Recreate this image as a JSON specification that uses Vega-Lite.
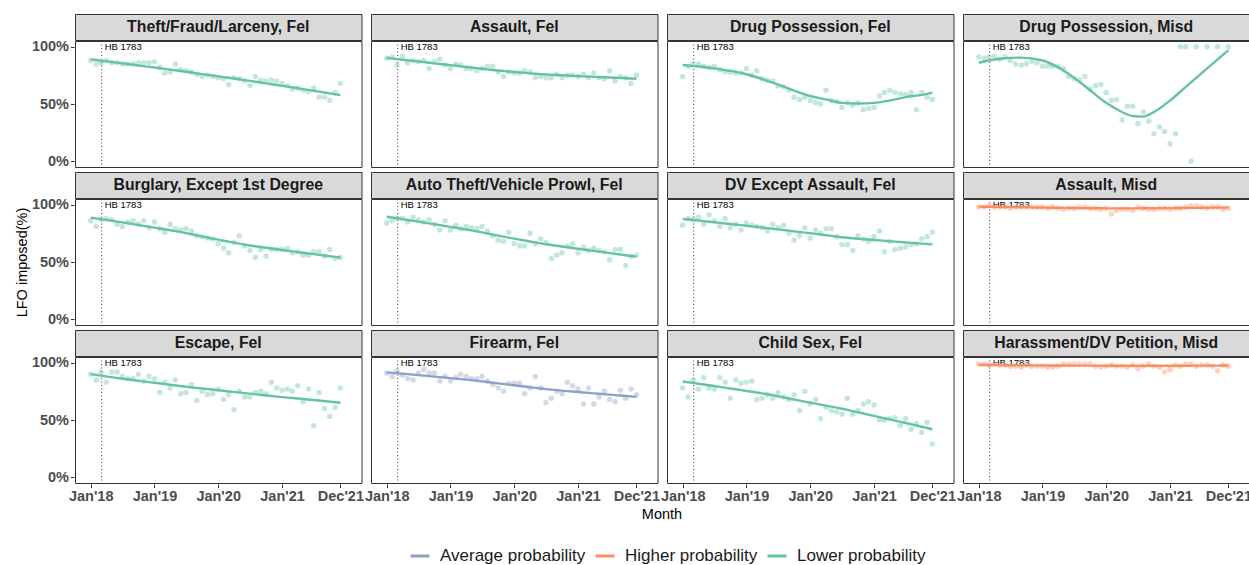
{
"$schema": "https://vega.github.io/schema/vega-lite/v6.json",
"background": "white",
"padding": {"left": 14, "top": 13, "right": 0, "bottom": 0},
"autosize": {"type": "pad"},
"datasets": {
"panels": [
{"k":1,"p":"Theft/Fraud/Larceny, Fel","r":1,"c":1,"g":"Lower probability"},
{"k":2,"p":"Assault, Fel","r":1,"c":2,"g":"Lower probability"},
{"k":3,"p":"Drug Possession, Fel","r":1,"c":3,"g":"Lower probability"},
{"k":4,"p":"Drug Possession, Misd","r":1,"c":4,"g":"Lower probability"},
{"k":5,"p":"Burglary, Except 1st Degree","r":2,"c":1,"g":"Lower probability"},
{"k":6,"p":"Auto Theft/Vehicle Prowl, Fel","r":2,"c":2,"g":"Lower probability"},
{"k":7,"p":"DV Except Assault, Fel","r":2,"c":3,"g":"Lower probability"},
{"k":8,"p":"Assault, Misd","r":2,"c":4,"g":"Higher probability"},
{"k":9,"p":"Escape, Fel","r":3,"c":1,"g":"Lower probability"},
{"k":10,"p":"Firearm, Fel","r":3,"c":2,"g":"Average probability"},
{"k":11,"p":"Child Sex, Fel","r":3,"c":3,"g":"Lower probability"},
{"k":12,"p":"Harassment/DV Petition, Misd","r":3,"c":4,"g":"Higher probability"}
],
"pts": [
{"k":1,"d":"2018-01-01","v":88},{"k":1,"d":"2018-02-01","v":85},{"k":1,"d":"2018-03-01","v":86},{"k":1,"d":"2018-04-01","v":88},{"k":1,"d":"2018-05-01","v":86},{"k":1,"d":"2018-06-01","v":86},{"k":1,"d":"2018-07-01","v":85},{"k":1,"d":"2018-08-01","v":85},{"k":1,"d":"2018-09-01","v":85},{"k":1,"d":"2018-10-01","v":86},{"k":1,"d":"2018-11-01","v":86},{"k":1,"d":"2018-12-01","v":86},
{"k":1,"d":"2019-01-01","v":87},{"k":1,"d":"2019-02-01","v":82},{"k":1,"d":"2019-03-01","v":77},{"k":1,"d":"2019-04-01","v":78},{"k":1,"d":"2019-05-01","v":85},{"k":1,"d":"2019-06-01","v":80},{"k":1,"d":"2019-07-01","v":79},{"k":1,"d":"2019-08-01","v":78},{"k":1,"d":"2019-09-01","v":76},{"k":1,"d":"2019-10-01","v":74},{"k":1,"d":"2019-11-01","v":75},{"k":1,"d":"2019-12-01","v":74},
{"k":1,"d":"2020-01-01","v":73},{"k":1,"d":"2020-02-01","v":72},{"k":1,"d":"2020-03-01","v":67},{"k":1,"d":"2020-04-01","v":73},{"k":1,"d":"2020-05-01","v":72},{"k":1,"d":"2020-06-01","v":70},{"k":1,"d":"2020-07-01","v":66},{"k":1,"d":"2020-08-01","v":74},{"k":1,"d":"2020-09-01","v":71},{"k":1,"d":"2020-10-01","v":70},{"k":1,"d":"2020-11-01","v":71},{"k":1,"d":"2020-12-01","v":70},
{"k":1,"d":"2021-01-01","v":68},{"k":1,"d":"2021-02-01","v":66},{"k":1,"d":"2021-03-01","v":63},{"k":1,"d":"2021-04-01","v":64},{"k":1,"d":"2021-05-01","v":62},{"k":1,"d":"2021-06-01","v":61},{"k":1,"d":"2021-07-01","v":64},{"k":1,"d":"2021-08-01","v":56},{"k":1,"d":"2021-09-01","v":56},{"k":1,"d":"2021-10-01","v":53},{"k":1,"d":"2021-11-01","v":60},{"k":1,"d":"2021-12-01","v":68},
{"k":2,"d":"2018-01-01","v":90},{"k":2,"d":"2018-02-01","v":91},{"k":2,"d":"2018-03-01","v":84},{"k":2,"d":"2018-04-01","v":92},{"k":2,"d":"2018-05-01","v":86},{"k":2,"d":"2018-06-01","v":88},{"k":2,"d":"2018-07-01","v":87},{"k":2,"d":"2018-08-01","v":88},{"k":2,"d":"2018-09-01","v":81},{"k":2,"d":"2018-10-01","v":87},{"k":2,"d":"2018-11-01","v":89},{"k":2,"d":"2018-12-01","v":84},
{"k":2,"d":"2019-01-01","v":81},{"k":2,"d":"2019-02-01","v":85},{"k":2,"d":"2019-03-01","v":84},{"k":2,"d":"2019-04-01","v":81},{"k":2,"d":"2019-05-01","v":81},{"k":2,"d":"2019-06-01","v":79},{"k":2,"d":"2019-07-01","v":81},{"k":2,"d":"2019-08-01","v":83},{"k":2,"d":"2019-09-01","v":83},{"k":2,"d":"2019-10-01","v":78},{"k":2,"d":"2019-11-01","v":74},{"k":2,"d":"2019-12-01","v":78},
{"k":2,"d":"2020-01-01","v":77},{"k":2,"d":"2020-02-01","v":77},{"k":2,"d":"2020-03-01","v":79},{"k":2,"d":"2020-04-01","v":78},{"k":2,"d":"2020-05-01","v":73},{"k":2,"d":"2020-06-01","v":74},{"k":2,"d":"2020-07-01","v":73},{"k":2,"d":"2020-08-01","v":73},{"k":2,"d":"2020-09-01","v":76},{"k":2,"d":"2020-10-01","v":73},{"k":2,"d":"2020-11-01","v":75},{"k":2,"d":"2020-12-01","v":75},
{"k":2,"d":"2021-01-01","v":74},{"k":2,"d":"2021-02-01","v":76},{"k":2,"d":"2021-03-01","v":73},{"k":2,"d":"2021-04-01","v":77},{"k":2,"d":"2021-05-01","v":73},{"k":2,"d":"2021-06-01","v":72},{"k":2,"d":"2021-07-01","v":79},{"k":2,"d":"2021-08-01","v":70},{"k":2,"d":"2021-09-01","v":74},{"k":2,"d":"2021-10-01","v":73},{"k":2,"d":"2021-11-01","v":68},{"k":2,"d":"2021-12-01","v":75},
{"k":3,"d":"2018-01-01","v":74},{"k":3,"d":"2018-02-01","v":83},{"k":3,"d":"2018-03-01","v":85},{"k":3,"d":"2018-04-01","v":85},{"k":3,"d":"2018-05-01","v":83},{"k":3,"d":"2018-06-01","v":82},{"k":3,"d":"2018-07-01","v":83},{"k":3,"d":"2018-08-01","v":80},{"k":3,"d":"2018-09-01","v":78},{"k":3,"d":"2018-10-01","v":78},{"k":3,"d":"2018-11-01","v":77},{"k":3,"d":"2018-12-01","v":77},
{"k":3,"d":"2019-01-01","v":81},{"k":3,"d":"2019-02-01","v":75},{"k":3,"d":"2019-03-01","v":79},{"k":3,"d":"2019-04-01","v":72},{"k":3,"d":"2019-05-01","v":71},{"k":3,"d":"2019-06-01","v":70},{"k":3,"d":"2019-07-01","v":66},{"k":3,"d":"2019-08-01","v":65},{"k":3,"d":"2019-09-01","v":62},{"k":3,"d":"2019-10-01","v":56},{"k":3,"d":"2019-11-01","v":54},{"k":3,"d":"2019-12-01","v":56},
{"k":3,"d":"2020-01-01","v":53},{"k":3,"d":"2020-02-01","v":51},{"k":3,"d":"2020-03-01","v":50},{"k":3,"d":"2020-04-01","v":62},{"k":3,"d":"2020-05-01","v":53},{"k":3,"d":"2020-06-01","v":52},{"k":3,"d":"2020-07-01","v":47},{"k":3,"d":"2020-08-01","v":51},{"k":3,"d":"2020-09-01","v":49},{"k":3,"d":"2020-10-01","v":51},{"k":3,"d":"2020-11-01","v":45},{"k":3,"d":"2020-12-01","v":46},
{"k":3,"d":"2021-01-01","v":47},{"k":3,"d":"2021-02-01","v":57},{"k":3,"d":"2021-03-01","v":60},{"k":3,"d":"2021-04-01","v":62},{"k":3,"d":"2021-05-01","v":60},{"k":3,"d":"2021-06-01","v":59},{"k":3,"d":"2021-07-01","v":58},{"k":3,"d":"2021-08-01","v":60},{"k":3,"d":"2021-09-01","v":45},{"k":3,"d":"2021-10-01","v":60},{"k":3,"d":"2021-11-01","v":56},{"k":3,"d":"2021-12-01","v":54},
{"k":4,"d":"2018-01-01","v":91},{"k":4,"d":"2018-02-01","v":90},{"k":4,"d":"2018-03-01","v":91},{"k":4,"d":"2018-04-01","v":92},{"k":4,"d":"2018-05-01","v":89},{"k":4,"d":"2018-06-01","v":91},{"k":4,"d":"2018-07-01","v":88},{"k":4,"d":"2018-08-01","v":85},{"k":4,"d":"2018-09-01","v":84},{"k":4,"d":"2018-10-01","v":85},{"k":4,"d":"2018-11-01","v":87},{"k":4,"d":"2018-12-01","v":86},
{"k":4,"d":"2019-01-01","v":83},{"k":4,"d":"2019-02-01","v":83},{"k":4,"d":"2019-03-01","v":83},{"k":4,"d":"2019-04-01","v":83},{"k":4,"d":"2019-05-01","v":81},{"k":4,"d":"2019-06-01","v":74},{"k":4,"d":"2019-07-01","v":72},{"k":4,"d":"2019-08-01","v":71},{"k":4,"d":"2019-09-01","v":74},{"k":4,"d":"2019-10-01","v":63},{"k":4,"d":"2019-11-01","v":66},{"k":4,"d":"2019-12-01","v":67},
{"k":4,"d":"2020-01-01","v":60},{"k":4,"d":"2020-02-01","v":53},{"k":4,"d":"2020-03-01","v":54},{"k":4,"d":"2020-04-01","v":36},{"k":4,"d":"2020-05-01","v":48},{"k":4,"d":"2020-06-01","v":48},{"k":4,"d":"2020-07-01","v":33},{"k":4,"d":"2020-08-01","v":43},{"k":4,"d":"2020-09-01","v":35},{"k":4,"d":"2020-10-01","v":24},{"k":4,"d":"2020-11-01","v":30},{"k":4,"d":"2020-12-01","v":26},
{"k":4,"d":"2021-01-01","v":15},{"k":4,"d":"2021-02-01","v":24},{"k":4,"d":"2021-03-01","v":100},{"k":4,"d":"2021-04-01","v":100},{"k":4,"d":"2021-05-01","v":0},{"k":4,"d":"2021-06-01","v":100},{"k":4,"d":"2021-08-01","v":100},{"k":4,"d":"2021-10-01","v":100},{"k":4,"d":"2021-12-01","v":100},
{"k":5,"d":"2018-01-01","v":86},{"k":5,"d":"2018-02-01","v":81},{"k":5,"d":"2018-03-01","v":87},{"k":5,"d":"2018-04-01","v":88},{"k":5,"d":"2018-05-01","v":87},{"k":5,"d":"2018-06-01","v":83},{"k":5,"d":"2018-07-01","v":81},{"k":5,"d":"2018-08-01","v":85},{"k":5,"d":"2018-09-01","v":86},{"k":5,"d":"2018-10-01","v":83},{"k":5,"d":"2018-11-01","v":86},{"k":5,"d":"2018-12-01","v":80},
{"k":5,"d":"2019-01-01","v":85},{"k":5,"d":"2019-02-01","v":79},{"k":5,"d":"2019-03-01","v":76},{"k":5,"d":"2019-04-01","v":83},{"k":5,"d":"2019-05-01","v":79},{"k":5,"d":"2019-06-01","v":78},{"k":5,"d":"2019-07-01","v":79},{"k":5,"d":"2019-08-01","v":77},{"k":5,"d":"2019-09-01","v":73},{"k":5,"d":"2019-10-01","v":72},{"k":5,"d":"2019-11-01","v":71},{"k":5,"d":"2019-12-01","v":70},
{"k":5,"d":"2020-01-01","v":66},{"k":5,"d":"2020-02-01","v":62},{"k":5,"d":"2020-03-01","v":58},{"k":5,"d":"2020-04-01","v":67},{"k":5,"d":"2020-05-01","v":73},{"k":5,"d":"2020-06-01","v":64},{"k":5,"d":"2020-07-01","v":60},{"k":5,"d":"2020-08-01","v":54},{"k":5,"d":"2020-09-01","v":61},{"k":5,"d":"2020-10-01","v":55},{"k":5,"d":"2020-11-01","v":61},{"k":5,"d":"2020-12-01","v":61},
{"k":5,"d":"2021-01-01","v":61},{"k":5,"d":"2021-02-01","v":62},{"k":5,"d":"2021-03-01","v":58},{"k":5,"d":"2021-04-01","v":59},{"k":5,"d":"2021-05-01","v":56},{"k":5,"d":"2021-06-01","v":56},{"k":5,"d":"2021-07-01","v":59},{"k":5,"d":"2021-08-01","v":59},{"k":5,"d":"2021-09-01","v":55},{"k":5,"d":"2021-10-01","v":61},{"k":5,"d":"2021-11-01","v":53},{"k":5,"d":"2021-12-01","v":54},
{"k":6,"d":"2018-01-01","v":84},{"k":6,"d":"2018-02-01","v":86},{"k":6,"d":"2018-03-01","v":88},{"k":6,"d":"2018-04-01","v":88},{"k":6,"d":"2018-05-01","v":85},{"k":6,"d":"2018-06-01","v":89},{"k":6,"d":"2018-07-01","v":87},{"k":6,"d":"2018-08-01","v":85},{"k":6,"d":"2018-09-01","v":87},{"k":6,"d":"2018-10-01","v":83},{"k":6,"d":"2018-11-01","v":78},{"k":6,"d":"2018-12-01","v":86},
{"k":6,"d":"2019-01-01","v":78},{"k":6,"d":"2019-02-01","v":82},{"k":6,"d":"2019-03-01","v":79},{"k":6,"d":"2019-04-01","v":81},{"k":6,"d":"2019-05-01","v":80},{"k":6,"d":"2019-06-01","v":79},{"k":6,"d":"2019-07-01","v":81},{"k":6,"d":"2019-08-01","v":77},{"k":6,"d":"2019-09-01","v":73},{"k":6,"d":"2019-10-01","v":69},{"k":6,"d":"2019-11-01","v":68},{"k":6,"d":"2019-12-01","v":76},
{"k":6,"d":"2020-01-01","v":66},{"k":6,"d":"2020-02-01","v":64},{"k":6,"d":"2020-03-01","v":64},{"k":6,"d":"2020-04-01","v":75},{"k":6,"d":"2020-05-01","v":66},{"k":6,"d":"2020-06-01","v":70},{"k":6,"d":"2020-07-01","v":67},{"k":6,"d":"2020-08-01","v":53},{"k":6,"d":"2020-09-01","v":56},{"k":6,"d":"2020-10-01","v":58},{"k":6,"d":"2020-11-01","v":64},{"k":6,"d":"2020-12-01","v":66},
{"k":6,"d":"2021-01-01","v":58},{"k":6,"d":"2021-02-01","v":63},{"k":6,"d":"2021-03-01","v":60},{"k":6,"d":"2021-04-01","v":62},{"k":6,"d":"2021-05-01","v":60},{"k":6,"d":"2021-06-01","v":59},{"k":6,"d":"2021-07-01","v":52},{"k":6,"d":"2021-08-01","v":61},{"k":6,"d":"2021-09-01","v":61},{"k":6,"d":"2021-10-01","v":47},{"k":6,"d":"2021-11-01","v":55},{"k":6,"d":"2021-12-01","v":56},
{"k":7,"d":"2018-01-01","v":82},{"k":7,"d":"2018-02-01","v":88},{"k":7,"d":"2018-03-01","v":87},{"k":7,"d":"2018-04-01","v":89},{"k":7,"d":"2018-05-01","v":83},{"k":7,"d":"2018-06-01","v":91},{"k":7,"d":"2018-07-01","v":86},{"k":7,"d":"2018-08-01","v":81},{"k":7,"d":"2018-09-01","v":88},{"k":7,"d":"2018-10-01","v":80},{"k":7,"d":"2018-11-01","v":83},{"k":7,"d":"2018-12-01","v":78},
{"k":7,"d":"2019-01-01","v":84},{"k":7,"d":"2019-02-01","v":82},{"k":7,"d":"2019-03-01","v":81},{"k":7,"d":"2019-04-01","v":80},{"k":7,"d":"2019-05-01","v":77},{"k":7,"d":"2019-06-01","v":83},{"k":7,"d":"2019-07-01","v":80},{"k":7,"d":"2019-08-01","v":82},{"k":7,"d":"2019-09-01","v":75},{"k":7,"d":"2019-10-01","v":69},{"k":7,"d":"2019-11-01","v":73},{"k":7,"d":"2019-12-01","v":80},
{"k":7,"d":"2020-01-01","v":71},{"k":7,"d":"2020-02-01","v":78},{"k":7,"d":"2020-03-01","v":75},{"k":7,"d":"2020-04-01","v":79},{"k":7,"d":"2020-05-01","v":79},{"k":7,"d":"2020-06-01","v":72},{"k":7,"d":"2020-07-01","v":65},{"k":7,"d":"2020-08-01","v":65},{"k":7,"d":"2020-09-01","v":60},{"k":7,"d":"2020-10-01","v":73},{"k":7,"d":"2020-11-01","v":70},{"k":7,"d":"2020-12-01","v":68},
{"k":7,"d":"2021-01-01","v":72},{"k":7,"d":"2021-02-01","v":77},{"k":7,"d":"2021-03-01","v":59},{"k":7,"d":"2021-04-01","v":68},{"k":7,"d":"2021-05-01","v":61},{"k":7,"d":"2021-06-01","v":62},{"k":7,"d":"2021-07-01","v":63},{"k":7,"d":"2021-08-01","v":65},{"k":7,"d":"2021-09-01","v":66},{"k":7,"d":"2021-10-01","v":70},{"k":7,"d":"2021-11-01","v":72},{"k":7,"d":"2021-12-01","v":76},
{"k":8,"d":"2018-01-01","v":98},{"k":8,"d":"2018-02-01","v":98},{"k":8,"d":"2018-03-01","v":99},{"k":8,"d":"2018-04-01","v":98},{"k":8,"d":"2018-05-01","v":98},{"k":8,"d":"2018-06-01","v":98},{"k":8,"d":"2018-07-01","v":97},{"k":8,"d":"2018-08-01","v":98},{"k":8,"d":"2018-09-01","v":98},{"k":8,"d":"2018-10-01","v":98},{"k":8,"d":"2018-11-01","v":98},{"k":8,"d":"2018-12-01","v":98},
{"k":8,"d":"2019-01-01","v":98},{"k":8,"d":"2019-02-01","v":97},{"k":8,"d":"2019-03-01","v":98},{"k":8,"d":"2019-04-01","v":97},{"k":8,"d":"2019-05-01","v":96},{"k":8,"d":"2019-06-01","v":97},{"k":8,"d":"2019-07-01","v":97},{"k":8,"d":"2019-08-01","v":98},{"k":8,"d":"2019-09-01","v":98},{"k":8,"d":"2019-10-01","v":97},{"k":8,"d":"2019-11-01","v":97},{"k":8,"d":"2019-12-01","v":96},
{"k":8,"d":"2020-01-01","v":97},{"k":8,"d":"2020-02-01","v":92},{"k":8,"d":"2020-03-01","v":95},{"k":8,"d":"2020-04-01","v":96},{"k":8,"d":"2020-05-01","v":96},{"k":8,"d":"2020-06-01","v":95},{"k":8,"d":"2020-07-01","v":98},{"k":8,"d":"2020-08-01","v":97},{"k":8,"d":"2020-09-01","v":96},{"k":8,"d":"2020-10-01","v":96},{"k":8,"d":"2020-11-01","v":97},{"k":8,"d":"2020-12-01","v":97},
{"k":8,"d":"2021-01-01","v":96},{"k":8,"d":"2021-02-01","v":97},{"k":8,"d":"2021-03-01","v":97},{"k":8,"d":"2021-04-01","v":98},{"k":8,"d":"2021-05-01","v":99},{"k":8,"d":"2021-06-01","v":99},{"k":8,"d":"2021-07-01","v":98},{"k":8,"d":"2021-08-01","v":97},{"k":8,"d":"2021-09-01","v":98},{"k":8,"d":"2021-10-01","v":98},{"k":8,"d":"2021-11-01","v":96},{"k":8,"d":"2021-12-01","v":97},
{"k":9,"d":"2018-01-01","v":90},{"k":9,"d":"2018-02-01","v":85},{"k":9,"d":"2018-03-01","v":92},{"k":9,"d":"2018-04-01","v":83},{"k":9,"d":"2018-05-01","v":92},{"k":9,"d":"2018-06-01","v":92},{"k":9,"d":"2018-07-01","v":88},{"k":9,"d":"2018-08-01","v":86},{"k":9,"d":"2018-09-01","v":86},{"k":9,"d":"2018-10-01","v":90},{"k":9,"d":"2018-11-01","v":84},{"k":9,"d":"2018-12-01","v":88},
{"k":9,"d":"2019-01-01","v":86},{"k":9,"d":"2019-02-01","v":74},{"k":9,"d":"2019-03-01","v":83},{"k":9,"d":"2019-04-01","v":78},{"k":9,"d":"2019-05-01","v":85},{"k":9,"d":"2019-06-01","v":73},{"k":9,"d":"2019-07-01","v":74},{"k":9,"d":"2019-08-01","v":81},{"k":9,"d":"2019-09-01","v":67},{"k":9,"d":"2019-10-01","v":75},{"k":9,"d":"2019-11-01","v":72},{"k":9,"d":"2019-12-01","v":73},
{"k":9,"d":"2020-01-01","v":77},{"k":9,"d":"2020-02-01","v":68},{"k":9,"d":"2020-03-01","v":72},{"k":9,"d":"2020-04-01","v":59},{"k":9,"d":"2020-05-01","v":75},{"k":9,"d":"2020-06-01","v":70},{"k":9,"d":"2020-07-01","v":70},{"k":9,"d":"2020-08-01","v":74},{"k":9,"d":"2020-09-01","v":75},{"k":9,"d":"2020-10-01","v":73},{"k":9,"d":"2020-11-01","v":83},{"k":9,"d":"2020-12-01","v":78},
{"k":9,"d":"2021-01-01","v":76},{"k":9,"d":"2021-02-01","v":77},{"k":9,"d":"2021-03-01","v":75},{"k":9,"d":"2021-04-01","v":80},{"k":9,"d":"2021-05-01","v":66},{"k":9,"d":"2021-06-01","v":77},{"k":9,"d":"2021-07-01","v":45},{"k":9,"d":"2021-08-01","v":74},{"k":9,"d":"2021-09-01","v":60},{"k":9,"d":"2021-10-01","v":53},{"k":9,"d":"2021-11-01","v":61},{"k":9,"d":"2021-12-01","v":78},
{"k":10,"d":"2018-01-01","v":91},{"k":10,"d":"2018-02-01","v":88},{"k":10,"d":"2018-03-01","v":93},{"k":10,"d":"2018-04-01","v":89},{"k":10,"d":"2018-05-01","v":86},{"k":10,"d":"2018-06-01","v":85},{"k":10,"d":"2018-07-01","v":91},{"k":10,"d":"2018-08-01","v":94},{"k":10,"d":"2018-09-01","v":91},{"k":10,"d":"2018-10-01","v":91},{"k":10,"d":"2018-11-01","v":84},{"k":10,"d":"2018-12-01","v":88},
{"k":10,"d":"2019-01-01","v":84},{"k":10,"d":"2019-02-01","v":87},{"k":10,"d":"2019-03-01","v":90},{"k":10,"d":"2019-04-01","v":88},{"k":10,"d":"2019-05-01","v":86},{"k":10,"d":"2019-06-01","v":86},{"k":10,"d":"2019-07-01","v":88},{"k":10,"d":"2019-08-01","v":84},{"k":10,"d":"2019-09-01","v":81},{"k":10,"d":"2019-10-01","v":78},{"k":10,"d":"2019-11-01","v":75},{"k":10,"d":"2019-12-01","v":82},
{"k":10,"d":"2020-01-01","v":82},{"k":10,"d":"2020-02-01","v":82},{"k":10,"d":"2020-03-01","v":73},{"k":10,"d":"2020-04-01","v":78},{"k":10,"d":"2020-05-01","v":88},{"k":10,"d":"2020-06-01","v":78},{"k":10,"d":"2020-07-01","v":65},{"k":10,"d":"2020-08-01","v":69},{"k":10,"d":"2020-09-01","v":75},{"k":10,"d":"2020-10-01","v":73},{"k":10,"d":"2020-11-01","v":83},{"k":10,"d":"2020-12-01","v":80},
{"k":10,"d":"2021-01-01","v":77},{"k":10,"d":"2021-02-01","v":64},{"k":10,"d":"2021-03-01","v":78},{"k":10,"d":"2021-04-01","v":64},{"k":10,"d":"2021-05-01","v":70},{"k":10,"d":"2021-06-01","v":75},{"k":10,"d":"2021-07-01","v":68},{"k":10,"d":"2021-08-01","v":66},{"k":10,"d":"2021-09-01","v":76},{"k":10,"d":"2021-10-01","v":69},{"k":10,"d":"2021-11-01","v":77},{"k":10,"d":"2021-12-01","v":72},
{"k":11,"d":"2018-01-01","v":78},{"k":11,"d":"2018-02-01","v":70},{"k":11,"d":"2018-03-01","v":85},{"k":11,"d":"2018-04-01","v":77},{"k":11,"d":"2018-05-01","v":87},{"k":11,"d":"2018-06-01","v":78},{"k":11,"d":"2018-07-01","v":77},{"k":11,"d":"2018-08-01","v":87},{"k":11,"d":"2018-09-01","v":83},{"k":11,"d":"2018-10-01","v":69},{"k":11,"d":"2018-11-01","v":85},{"k":11,"d":"2018-12-01","v":82},
{"k":11,"d":"2019-01-01","v":83},{"k":11,"d":"2019-02-01","v":84},{"k":11,"d":"2019-03-01","v":68},{"k":11,"d":"2019-04-01","v":69},{"k":11,"d":"2019-05-01","v":72},{"k":11,"d":"2019-06-01","v":69},{"k":11,"d":"2019-07-01","v":74},{"k":11,"d":"2019-08-01","v":70},{"k":11,"d":"2019-09-01","v":68},{"k":11,"d":"2019-10-01","v":72},{"k":11,"d":"2019-11-01","v":58},{"k":11,"d":"2019-12-01","v":75},
{"k":11,"d":"2020-01-01","v":64},{"k":11,"d":"2020-02-01","v":68},{"k":11,"d":"2020-03-01","v":51},{"k":11,"d":"2020-04-01","v":61},{"k":11,"d":"2020-05-01","v":58},{"k":11,"d":"2020-06-01","v":57},{"k":11,"d":"2020-07-01","v":55},{"k":11,"d":"2020-08-01","v":69},{"k":11,"d":"2020-09-01","v":55},{"k":11,"d":"2020-10-01","v":58},{"k":11,"d":"2020-11-01","v":64},{"k":11,"d":"2020-12-01","v":66},
{"k":11,"d":"2021-01-01","v":63},{"k":11,"d":"2021-02-01","v":50},{"k":11,"d":"2021-03-01","v":50},{"k":11,"d":"2021-04-01","v":51},{"k":11,"d":"2021-05-01","v":52},{"k":11,"d":"2021-06-01","v":45},{"k":11,"d":"2021-07-01","v":51},{"k":11,"d":"2021-08-01","v":42},{"k":11,"d":"2021-09-01","v":47},{"k":11,"d":"2021-10-01","v":39},{"k":11,"d":"2021-11-01","v":48},{"k":11,"d":"2021-12-01","v":29},
{"k":12,"d":"2018-01-01","v":99},{"k":12,"d":"2018-02-01","v":99},{"k":12,"d":"2018-03-01","v":98},{"k":12,"d":"2018-04-01","v":99},{"k":12,"d":"2018-05-01","v":98},{"k":12,"d":"2018-06-01","v":98},{"k":12,"d":"2018-07-01","v":97},{"k":12,"d":"2018-08-01","v":97},{"k":12,"d":"2018-09-01","v":96},{"k":12,"d":"2018-10-01","v":98},{"k":12,"d":"2018-11-01","v":97},{"k":12,"d":"2018-12-01","v":97},
{"k":12,"d":"2019-01-01","v":97},{"k":12,"d":"2019-02-01","v":96},{"k":12,"d":"2019-03-01","v":96},{"k":12,"d":"2019-04-01","v":97},{"k":12,"d":"2019-05-01","v":99},{"k":12,"d":"2019-06-01","v":99},{"k":12,"d":"2019-07-01","v":99},{"k":12,"d":"2019-08-01","v":99},{"k":12,"d":"2019-09-01","v":99},{"k":12,"d":"2019-10-01","v":99},{"k":12,"d":"2019-11-01","v":97},{"k":12,"d":"2019-12-01","v":96},
{"k":12,"d":"2020-01-01","v":97},{"k":12,"d":"2020-02-01","v":98},{"k":12,"d":"2020-03-01","v":97},{"k":12,"d":"2020-04-01","v":97},{"k":12,"d":"2020-05-01","v":96},{"k":12,"d":"2020-06-01","v":98},{"k":12,"d":"2020-07-01","v":95},{"k":12,"d":"2020-08-01","v":97},{"k":12,"d":"2020-09-01","v":99},{"k":12,"d":"2020-10-01","v":97},{"k":12,"d":"2020-11-01","v":96},{"k":12,"d":"2020-12-01","v":92},
{"k":12,"d":"2021-01-01","v":94},{"k":12,"d":"2021-02-01","v":98},{"k":12,"d":"2021-03-01","v":97},{"k":12,"d":"2021-04-01","v":99},{"k":12,"d":"2021-05-01","v":99},{"k":12,"d":"2021-06-01","v":97},{"k":12,"d":"2021-07-01","v":98},{"k":12,"d":"2021-08-01","v":98},{"k":12,"d":"2021-09-01","v":97},{"k":12,"d":"2021-10-01","v":93},{"k":12,"d":"2021-11-01","v":98},{"k":12,"d":"2021-12-01","v":97},
{"k":3,"d":"2018-01-01","f":84},{"k":3,"d":"2018-07-01","f":81},{"k":3,"d":"2019-01-01","f":76},{"k":3,"d":"2019-07-01","f":67},{"k":3,"d":"2020-01-01","f":57},{"k":3,"d":"2020-04-01","f":54},{"k":3,"d":"2020-07-01","f":51},{"k":3,"d":"2020-10-01","f":50.5},{"k":3,"d":"2021-01-01","f":51},{"k":3,"d":"2021-04-01","f":53},{"k":3,"d":"2021-07-01","f":56},{"k":3,"d":"2021-10-01","f":58},{"k":3,"d":"2021-12-01","f":60},
{"k":4,"d":"2018-01-01","f":86},{"k":4,"d":"2018-05-01","f":89.5},{"k":4,"d":"2018-09-01","f":90.5},{"k":4,"d":"2019-01-01","f":88},{"k":4,"d":"2019-04-01","f":82},{"k":4,"d":"2019-07-01","f":73},{"k":4,"d":"2019-10-01","f":62},{"k":4,"d":"2020-01-01","f":51},{"k":4,"d":"2020-04-01","f":43},{"k":4,"d":"2020-06-01","f":39.5},{"k":4,"d":"2020-08-01","f":39},{"k":4,"d":"2020-10-01","f":43},{"k":4,"d":"2021-01-01","f":53},{"k":4,"d":"2021-04-01","f":65},{"k":4,"d":"2021-07-01","f":77},{"k":4,"d":"2021-10-01","f":89},{"k":4,"d":"2021-12-01","f":97},
{"k":9,"d":"2018-01-01","f":90},{"k":9,"d":"2018-07-01","f":86},{"k":9,"d":"2019-01-01","f":82.5},{"k":9,"d":"2019-07-01","f":79},{"k":9,"d":"2020-01-01","f":76},{"k":9,"d":"2020-07-01","f":73},{"k":9,"d":"2021-01-01","f":70},{"k":9,"d":"2021-07-01","f":67.5},{"k":9,"d":"2021-12-01","f":65}
]
},
"spacing": 3,
"vconcat": [
{"spacing": -4, "vconcat": [
 {"data": {"name": "panels"}, "transform": [{"filter": "datum.r == 1"}],
  "facet": {"column": {"field": "c", "type": "ordinal", "title": null, "header": null}}, "spacing": 8,
  "spec": {"width": 286.5, "height": 26, "view": {"fill": "#D9D9D9", "stroke": "#333333", "strokeWidth": 1},
   "mark": {"type": "text", "font": "Liberation Sans", "fontWeight": "bold", "fontSize": 15.8, "color": "#1A1A1A", "baseline": "middle"},
   "encoding": {"text": {"field": "p"}}}},
 {"data": {"name": "pts"}, "transform": [{"lookup": "k", "from": {"data": {"name": "panels"}, "key": "k", "fields": ["p", "r", "c", "g"]}}, {"filter": "datum.r == 1"}],
  "facet": {"column": {"field": "c", "type": "ordinal", "title": null, "header": null}}, "spacing": 8,
  "spec": {"width": 286.5, "height": 126, "layer": [
   {"transform": [{"aggregate": [{"op": "count", "as": "n"}], "groupby": ["c"]}],
    "mark": {"type": "rule", "strokeDash": [1, 2.5], "color": "#333333", "strokeWidth": 1},
    "encoding": {"x": {"datum": {"year": 2018, "month": 3, "date": 5, "utc": true}, "type": "temporal"}}},
   {"transform": [{"aggregate": [{"op": "count", "as": "n"}], "groupby": ["c"]}],
    "mark": {"type": "text", "align": "left", "baseline": "middle", "dx": 3, "font": "Liberation Sans", "fontSize": 9.5, "color": "#000000"},
    "encoding": {"x": {"datum": {"year": 2018, "month": 3, "date": 5, "utc": true}, "type": "temporal"}, "y": {"datum": 100, "type": "quantitative"}, "text": {"value": "HB 1783"}}},
   {"transform": [{"filter": "datum.v != null"}],
    "mark": {"type": "circle", "size": 30, "opacity": 0.4},
    "encoding": {
     "x": {"field": "d", "type": "temporal", "scale": {"type": "utc", "domain": [{"year": 2017, "month": 10, "date": 3, "utc": true}, {"year": 2022, "month": 4, "date": 1, "utc": true}]},
       "axis": {"title": null, "labels": false, "ticks": false, "domain": false, "values": [{"year":2018,"month":1,"date":1,"utc":true},{"year":2018,"month":7,"date":2,"utc":true},{"year":2019,"month":1,"date":1,"utc":true},{"year":2019,"month":7,"date":2,"utc":true},{"year":2020,"month":1,"date":1,"utc":true},{"year":2020,"month":7,"date":2,"utc":true},{"year":2021,"month":1,"date":1,"utc":true},{"year":2021,"month":6,"date":17,"utc":true},{"year":2021,"month":12,"date":1,"utc":true}],
         "gridWidth": {"condition": {"test": "utcmonth(datum.value) == 0 || utcmonth(datum.value) == 11", "value": 1.1}, "value": 0.55}}},
     "y": {"field": "v", "type": "quantitative", "scale": {"domain": [-5, 105], "nice": false, "zero": false},
       "axis": {"title": null, "domain": false, "values": [0, 12.5, 25, 37.5, 50, 62.5, 75, 87.5, 100], "labelOverlap": false,
         "labelExpr": "datum.value % 25 == 0 ? datum.value + '%' : ''",
         "tickOpacity": {"condition": {"test": "datum.value % 25 == 0", "value": 1}, "value": 0},
         "gridWidth": {"condition": {"test": "datum.value % 25 == 0", "value": 1.1}, "value": 0.55}}},
     "color": {"field": "g", "type": "nominal", "scale": {"domain": ["Average probability", "Higher probability", "Lower probability"], "range": ["#8DA0CB", "#FC8D62", "#66C2A5"]}, "legend": {"title": null, "orient": "none", "direction": "horizontal", "legendX": 334, "legendY": 531}}}},
   {"transform": [{"filter": "datum.v != null && datum.k != 3 && datum.k != 4"}, {"loess": "v", "on": "d", "groupby": ["c", "g"], "bandwidth": 0.75}],
    "mark": {"type": "line", "strokeWidth": 2.4, "clip": true},
    "encoding": {"x": {"field": "d", "type": "temporal"}, "y": {"field": "v", "type": "quantitative", "title": null}, "color": {"field": "g", "type": "nominal"}}},
   {"transform": [{"filter": "datum.f != null"}],
    "mark": {"type": "line", "strokeWidth": 2.4, "clip": true, "interpolate": "monotone"},
    "encoding": {"x": {"field": "d", "type": "temporal"}, "y": {"field": "f", "type": "quantitative", "title": null}, "color": {"field": "g", "type": "nominal"}}}
  ]}}
]},
{"spacing": -4, "vconcat": [
 {"data": {"name": "panels"}, "transform": [{"filter": "datum.r == 2"}],
  "facet": {"column": {"field": "c", "type": "ordinal", "title": null, "header": null}}, "spacing": 8,
  "spec": {"width": 286.5, "height": 26, "view": {"fill": "#D9D9D9", "stroke": "#333333", "strokeWidth": 1},
   "mark": {"type": "text", "font": "Liberation Sans", "fontWeight": "bold", "fontSize": 15.8, "color": "#1A1A1A", "baseline": "middle"},
   "encoding": {"text": {"field": "p"}}}},
 {"data": {"name": "pts"}, "transform": [{"lookup": "k", "from": {"data": {"name": "panels"}, "key": "k", "fields": ["p", "r", "c", "g"]}}, {"filter": "datum.r == 2"}],
  "facet": {"column": {"field": "c", "type": "ordinal", "title": null, "header": null}}, "spacing": 8,
  "spec": {"width": 286.5, "height": 126, "layer": [
   {"transform": [{"aggregate": [{"op": "count", "as": "n"}], "groupby": ["c"]}],
    "mark": {"type": "rule", "strokeDash": [1, 2.5], "color": "#333333", "strokeWidth": 1},
    "encoding": {"x": {"datum": {"year": 2018, "month": 3, "date": 5, "utc": true}, "type": "temporal"}}},
   {"transform": [{"aggregate": [{"op": "count", "as": "n"}], "groupby": ["c"]}],
    "mark": {"type": "text", "align": "left", "baseline": "middle", "dx": 3, "font": "Liberation Sans", "fontSize": 9.5, "color": "#000000"},
    "encoding": {"x": {"datum": {"year": 2018, "month": 3, "date": 5, "utc": true}, "type": "temporal"}, "y": {"datum": 100, "type": "quantitative"}, "text": {"value": "HB 1783"}}},
   {"transform": [{"filter": "datum.v != null"}],
    "mark": {"type": "circle", "size": 30, "opacity": 0.4},
    "encoding": {
     "x": {"field": "d", "type": "temporal", "scale": {"type": "utc", "domain": [{"year": 2017, "month": 10, "date": 3, "utc": true}, {"year": 2022, "month": 4, "date": 1, "utc": true}]},
       "axis": {"title": null, "labels": false, "ticks": false, "domain": false, "values": [{"year":2018,"month":1,"date":1,"utc":true},{"year":2018,"month":7,"date":2,"utc":true},{"year":2019,"month":1,"date":1,"utc":true},{"year":2019,"month":7,"date":2,"utc":true},{"year":2020,"month":1,"date":1,"utc":true},{"year":2020,"month":7,"date":2,"utc":true},{"year":2021,"month":1,"date":1,"utc":true},{"year":2021,"month":6,"date":17,"utc":true},{"year":2021,"month":12,"date":1,"utc":true}],
         "gridWidth": {"condition": {"test": "utcmonth(datum.value) == 0 || utcmonth(datum.value) == 11", "value": 1.1}, "value": 0.55}}},
     "y": {"field": "v", "type": "quantitative", "title": "LFO imposed(%)", "scale": {"domain": [-5, 105], "nice": false, "zero": false},
       "axis": {"titlePadding": 2, "domain": false, "values": [0, 12.5, 25, 37.5, 50, 62.5, 75, 87.5, 100], "labelOverlap": false,
         "labelExpr": "datum.value % 25 == 0 ? datum.value + '%' : ''",
         "tickOpacity": {"condition": {"test": "datum.value % 25 == 0", "value": 1}, "value": 0},
         "gridWidth": {"condition": {"test": "datum.value % 25 == 0", "value": 1.1}, "value": 0.55}}},
     "color": {"field": "g", "type": "nominal", "legend": {"title": null, "orient": "none", "direction": "horizontal", "legendX": 334, "legendY": 531}}}},
   {"transform": [{"filter": "datum.v != null"}, {"loess": "v", "on": "d", "groupby": ["c", "g"], "bandwidth": 0.75}],
    "mark": {"type": "line", "strokeWidth": 2.4, "clip": true},
    "encoding": {"x": {"field": "d", "type": "temporal"}, "y": {"field": "v", "type": "quantitative", "title": "LFO imposed(%)"}, "color": {"field": "g", "type": "nominal"}}}
  ]}}
]},
{"spacing": -4, "vconcat": [
 {"data": {"name": "panels"}, "transform": [{"filter": "datum.r == 3"}],
  "facet": {"column": {"field": "c", "type": "ordinal", "title": null, "header": null}}, "spacing": 8,
  "spec": {"width": 286.5, "height": 26, "view": {"fill": "#D9D9D9", "stroke": "#333333", "strokeWidth": 1},
   "mark": {"type": "text", "font": "Liberation Sans", "fontWeight": "bold", "fontSize": 15.8, "color": "#1A1A1A", "baseline": "middle"},
   "encoding": {"text": {"field": "p"}}}},
 {"data": {"name": "pts"}, "transform": [{"lookup": "k", "from": {"data": {"name": "panels"}, "key": "k", "fields": ["p", "r", "c", "g"]}}, {"filter": "datum.r == 3"}],
  "facet": {"column": {"field": "c", "type": "ordinal", "title": "Month", "header": {"labels": false, "labelOrient": "bottom", "titleOrient": "bottom", "titleFont": "Liberation Sans", "titleFontSize": 14.5, "titleFontWeight": "normal", "titleColor": "#000000", "titlePadding": -5, "labelPadding": 0}}}, "spacing": 8,
  "spec": {"width": 286.5, "height": 126, "layer": [
   {"transform": [{"aggregate": [{"op": "count", "as": "n"}], "groupby": ["c"]}],
    "mark": {"type": "rule", "strokeDash": [1, 2.5], "color": "#333333", "strokeWidth": 1},
    "encoding": {"x": {"datum": {"year": 2018, "month": 3, "date": 5, "utc": true}, "type": "temporal"}}},
   {"transform": [{"aggregate": [{"op": "count", "as": "n"}], "groupby": ["c"]}],
    "mark": {"type": "text", "align": "left", "baseline": "middle", "dx": 3, "font": "Liberation Sans", "fontSize": 9.5, "color": "#000000"},
    "encoding": {"x": {"datum": {"year": 2018, "month": 3, "date": 5, "utc": true}, "type": "temporal"}, "y": {"datum": 100, "type": "quantitative"}, "text": {"value": "HB 1783"}}},
   {"transform": [{"filter": "datum.v != null"}],
    "mark": {"type": "circle", "size": 30, "opacity": 0.4},
    "encoding": {
     "x": {"field": "d", "type": "temporal", "scale": {"type": "utc", "domain": [{"year": 2017, "month": 10, "date": 3, "utc": true}, {"year": 2022, "month": 4, "date": 1, "utc": true}]},
       "axis": {"title": null, "domain": false, "labelOverlap": false, "labelFlush": false, "values": [{"year":2018,"month":1,"date":1,"utc":true},{"year":2018,"month":7,"date":2,"utc":true},{"year":2019,"month":1,"date":1,"utc":true},{"year":2019,"month":7,"date":2,"utc":true},{"year":2020,"month":1,"date":1,"utc":true},{"year":2020,"month":7,"date":2,"utc":true},{"year":2021,"month":1,"date":1,"utc":true},{"year":2021,"month":6,"date":17,"utc":true},{"year":2021,"month":12,"date":1,"utc":true}],
         "labelExpr": "(utcmonth(datum.value) == 0 || utcmonth(datum.value) == 11) ? utcFormat(datum.value, \"%b'%y\") : ''",
         "tickOpacity": {"condition": {"test": "utcmonth(datum.value) == 0 || utcmonth(datum.value) == 11", "value": 1}, "value": 0},
         "gridWidth": {"condition": {"test": "utcmonth(datum.value) == 0 || utcmonth(datum.value) == 11", "value": 1.1}, "value": 0.55}}},
     "y": {"field": "v", "type": "quantitative", "scale": {"domain": [-5, 105], "nice": false, "zero": false},
       "axis": {"title": null, "domain": false, "values": [0, 12.5, 25, 37.5, 50, 62.5, 75, 87.5, 100], "labelOverlap": false,
         "labelExpr": "datum.value % 25 == 0 ? datum.value + '%' : ''",
         "tickOpacity": {"condition": {"test": "datum.value % 25 == 0", "value": 1}, "value": 0},
         "gridWidth": {"condition": {"test": "datum.value % 25 == 0", "value": 1.1}, "value": 0.55}}},
     "color": {"field": "g", "type": "nominal", "legend": {"title": null, "orient": "none", "direction": "horizontal", "legendX": 334, "legendY": 531}}}},
   {"transform": [{"filter": "datum.v != null && datum.k != 9"}, {"loess": "v", "on": "d", "groupby": ["c", "g"], "bandwidth": 0.75}],
    "mark": {"type": "line", "strokeWidth": 2.4, "clip": true},
    "encoding": {"x": {"field": "d", "type": "temporal"}, "y": {"field": "v", "type": "quantitative", "title": null}, "color": {"field": "g", "type": "nominal"}}},
   {"transform": [{"filter": "datum.f != null"}],
    "mark": {"type": "line", "strokeWidth": 2.4, "clip": true, "interpolate": "monotone"},
    "encoding": {"x": {"field": "d", "type": "temporal"}, "y": {"field": "f", "type": "quantitative", "title": null}, "color": {"field": "g", "type": "nominal"}}}
  ]}}
]}
],
"config": {
 "font": "Liberation Sans",
 "concat": {"spacing": 0},
 "view": {"stroke": "#333333", "strokeWidth": 1},
 "axis": {"labelFont": "Liberation Sans", "labelFontSize": 14.5, "labelFontWeight": "bold", "labelColor": "#4D4D4D", "labelPadding": 2, "gridColor": "#EBEBEB", "tickColor": "#333333", "tickSize": 3.5, "tickWidth": 1, "titleFont": "Liberation Sans", "titleFontSize": 14.5, "titleFontWeight": "normal", "titleColor": "#000000"},
 "legend": {"labelFont": "Liberation Sans", "labelFontSize": 17, "labelColor": "#1A1A1A", "symbolType": "stroke", "symbolStrokeWidth": 3, "symbolSize": 360, "symbolOpacity": 1, "columnPadding": 3, "labelOffset": 9}
}
}
